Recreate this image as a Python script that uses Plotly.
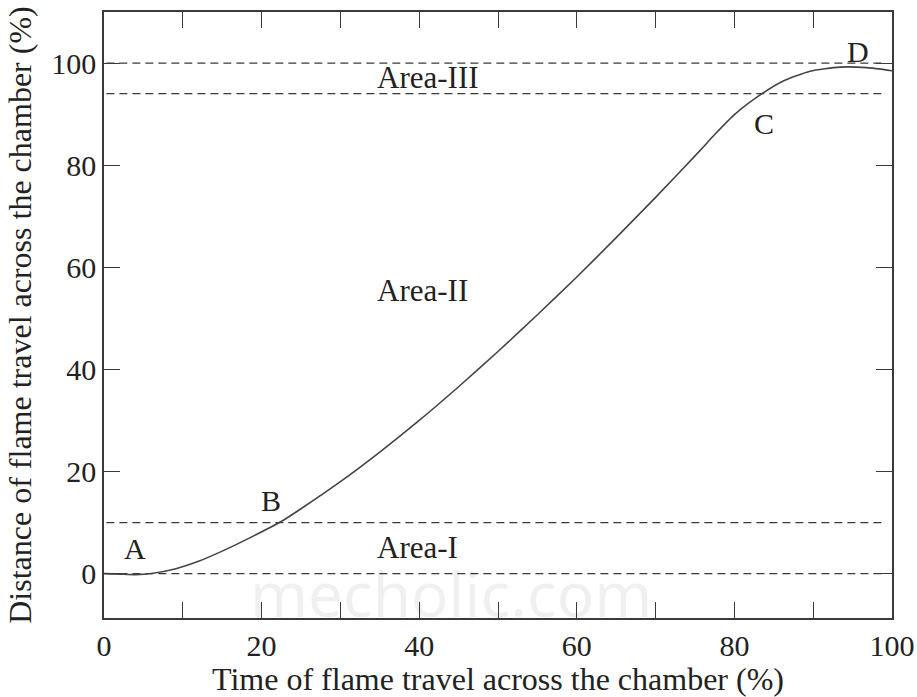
import plotly.graph_objects as go

# Flame travel curve: time (%) vs distance (%)
time_pct = [0, 2, 4, 6, 9, 12, 15, 18.5, 22.7, 25, 30, 35, 40, 45, 50, 55, 60,
            65, 70, 75.6, 77.5, 80, 83.5, 86.2, 89.6, 93.4, 96.8, 100]
distance_pct = [0, -0.1, -0.2, 0, 0.9, 2.4, 4.4, 7.0, 10.4, 12.7, 18.0, 23.8, 30.0,
                36.6, 43.5, 50.7, 58.1, 65.8, 73.7, 82.8, 86.0, 89.9, 94.0, 96.5,
                98.4, 99.2, 99.1, 98.5]

# Dashed boundary levels separating the combustion areas
boundary_levels = [0, 10, 94, 100]
boundary_span = [0.3, 99]

# Point and area labels
point_names = ["A", "B", "C", "D"]
point_x = [3.9, 21.2, 83.8, 95.7]
point_y = [5.0, 14.4, 88.1, 102.2]
area_names = ["Area-I", "Area-II", "Area-III"]
area_x = [39.8, 40.4, 41.1]
area_y = [5.1, 55.5, 97.1]

x_ticks = [0, 10, 20, 30, 40, 50, 60, 70, 80, 90, 100]
x_tick_text = ["0", "", "20", "", "40", "", "60", "", "80", "", "100"]
y_ticks = [0, 20, 40, 60, 80, 100]

SERIF = "Liberation Serif"
INK = "#3a3a3a"

fig = go.Figure()

for lvl in boundary_levels:
    fig.add_trace(go.Scatter(
        x=boundary_span, y=[lvl, lvl], mode="lines",
        line=dict(color=INK, width=1.3, dash="8px,5px"),
        hoverinfo="skip", showlegend=False))

fig.add_trace(go.Scatter(
    x=time_pct, y=distance_pct, mode="lines",
    line=dict(color="#444444", width=1.6, shape="spline", smoothing=0.6),
    showlegend=False))

for name, x, y in zip(point_names, point_x, point_y):
    fig.add_annotation(x=x, y=y, text=name, showarrow=False,
                       font=dict(family=SERIF, size=30, color="#222"))
for name, x, y in zip(area_names, area_x, area_y):
    fig.add_annotation(x=x, y=y, text=name, showarrow=False,
                       font=dict(family=SERIF, size=31, color="#222"))

# Faint site watermark
fig.add_annotation(x=44, y=-3.8, xanchor="center",
                   text="mecholic.com", showarrow=False,
                   font=dict(family="Noto Sans, sans-serif", size=62,
                             color="rgba(0,0,0,0.06)"))

axis_common = dict(
    showline=True, linecolor=INK, linewidth=1.6, mirror="ticks",
    ticks="inside", ticklen=16, tickwidth=1.4, tickcolor=INK,
    showgrid=False, zeroline=False, automargin=False,
    tickfont=dict(family=SERIF, size=30, color="#222"),
)

fig.update_xaxes(
    range=[0, 100], tickvals=x_ticks, ticktext=x_tick_text,
    title=dict(text="Time of flame travel across the chamber (%)",
               font=dict(family=SERIF, size=32, color="#222"), standoff=14),
    **axis_common)
fig.update_yaxes(
    range=[-8.7, 110], tickvals=y_ticks,
    title=dict(text="Distance of flame travel across the chamber (%)",
               font=dict(family=SERIF, size=32, color="#222"), standoff=10),
    **axis_common)

fig.update_layout(
    width=917, height=697,
    margin=dict(l=104, r=25, t=12, b=79),
    paper_bgcolor="white", plot_bgcolor="white",
)

fig.write_html("out.html")
